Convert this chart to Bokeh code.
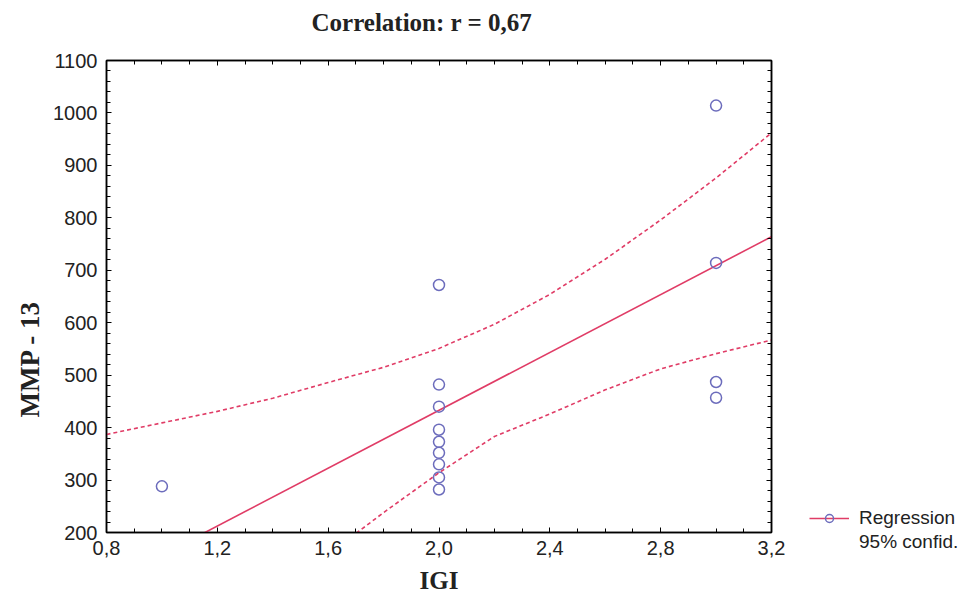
from bokeh.plotting import figure
from bokeh.layouts import row, column
from bokeh.models import (LinearAxis, Legend, LegendItem, CustomJSTickFormatter,
                          SingleIntervalTicker, ColumnDataSource, Title)
from bokeh.embed import file_html
from bokeh.resources import INLINE

# ---- data ----
igi = [1, 2, 2, 2, 2, 2, 2, 2, 2, 2, 3, 3, 3, 3]
mmp13 = [288, 672, 482, 440, 396, 373, 352, 330, 305, 282, 1014, 714, 487, 457]

reg_igi = [0.8, 3.2]
reg_mmp = [102, 764]

ci_upper_igi = [0.8, 1.0, 1.2, 1.4, 1.6, 1.8, 2.0, 2.2, 2.4, 2.6, 2.8, 3.0, 3.2]
ci_upper_mmp = [387, 409, 431, 456, 486, 515, 551, 597, 654, 721, 796, 876, 962]
ci_lower_igi = [1.6, 1.8, 2.0, 2.2, 2.4, 2.6, 2.8, 3.0, 3.2]
ci_lower_mmp = [158, 238, 314, 383, 426, 472, 512, 541, 567]

title_text = "Correlation: r = 0,67"
x_label = "IGI"
y_label = "MMP - 13"
legend_labels = ["Regression", "95% confid."]

RED = "#e03c66"
BLUE = "#6c6cbc"
SANS = "Liberation Sans"
SERIF = "Liberation Serif"
H = 596

p = figure(width=785, height=H, x_range=(0.8, 3.2), y_range=(200, 1100),
           output_backend="svg", toolbar_location=None,
           min_border_left=106, min_border_top=60, min_border_right=14,
           min_border_bottom=63, x_axis_location=None, y_axis_location=None)
p.grid.visible = False
p.outline_line_color = "black"
p.outline_line_width = 1.5
p.background_fill_color = "white"
p.border_fill_color = "white"

p.title.text = title_text
p.title.text_font = SERIF
p.title.text_font_size = "25px"
p.title.text_font_style = "bold"
p.title.text_color = "#222222"
p.title.align = "left"
p.title.offset = 205
p.title.standoff = 4

fmt = CustomJSTickFormatter(code="return tick.toFixed(1).replace('.', ',');")
blank = CustomJSTickFormatter(code="return '';")

def style_axis(ax):
    ax.axis_line_color = "black"
    ax.axis_line_width = 1.5
    ax.major_tick_in = 5
    ax.major_tick_out = 0
    ax.minor_tick_in = 4
    ax.minor_tick_out = 0
    ax.major_tick_line_color = "black"
    ax.minor_tick_line_color = "black"
    ax.major_label_text_font = SANS
    ax.major_label_text_font_size = "20px"
    ax.major_label_text_color = "#222222"
    ax.major_label_standoff = 0
    ax.axis_label_text_font = SERIF
    ax.axis_label_text_font_style = "bold"
    ax.axis_label_text_font_size = "25px"
    ax.axis_label_text_color = "#222222"

xb = LinearAxis(ticker=SingleIntervalTicker(interval=0.4, num_minor_ticks=4),
                formatter=fmt, axis_label=x_label)
style_axis(xb)
xb.major_label_standoff = 8
xb.axis_label_standoff = 9
p.add_layout(xb, "below")

xa = LinearAxis(ticker=SingleIntervalTicker(interval=0.4, num_minor_ticks=4),
                formatter=blank)
style_axis(xa)
p.add_layout(xa, "above")

# invisible spacer axis that lifts the title away from the frame
spacer = LinearAxis(ticker=SingleIntervalTicker(interval=0.4, num_minor_ticks=0),
                    formatter=blank)
spacer.axis_line_color = None
spacer.major_tick_line_color = None
spacer.minor_tick_line_color = None
spacer.major_tick_in = 0
spacer.major_tick_out = 23
spacer.minor_tick_in = 0
spacer.minor_tick_out = 0
spacer.major_label_standoff = 0
p.add_layout(spacer, "above")

yl = LinearAxis(ticker=SingleIntervalTicker(interval=100, num_minor_ticks=5))
style_axis(yl)
yl.major_label_standoff = 9
p.add_layout(yl, "left")

yr = LinearAxis(ticker=SingleIntervalTicker(interval=100, num_minor_ticks=5),
                formatter=blank)
style_axis(yr)
p.add_layout(yr, "right")

ytitle = Title(text=y_label, align="left", offset=115, standoff=12,
               text_font=SERIF, text_font_style="bold", text_font_size="27px",
               text_color="#222222")
p.add_layout(ytitle, "left")

src = ColumnDataSource(dict(x=igi, y=mmp13))
p.line(ci_upper_igi, ci_upper_mmp, line_color=RED, line_width=1.6, line_dash="4 3")
p.line(ci_lower_igi, ci_lower_mmp, line_color=RED, line_width=1.6, line_dash="4 3")
p.line(reg_igi, reg_mmp, line_color=RED, line_width=1.6)
p.scatter("x", "y", source=src, marker="circle", size=11, fill_color=None,
          line_color=BLUE, line_width=1.5)

# ---- legend panel to the right of the plot ----
lg = figure(width=180, height=H, x_range=(0, 1), y_range=(0, 1),
            output_backend="svg", toolbar_location=None,
            min_border=0, x_axis_location=None, y_axis_location=None)
lg.grid.visible = False
lg.outline_line_color = None
lg_reg = lg.line(x=[5, 6], y=[5, 6], line_color=RED, line_width=1.6)
lg_pts = lg.scatter(x=[5], y=[5], marker="circle", size=11, fill_color=None,
                    line_color=BLUE, line_width=1.5)
lg_ci = lg.line(x=[5, 6], y=[5, 6], line_alpha=0)

legend = Legend(items=[LegendItem(label=legend_labels[0], renderers=[lg_reg, lg_pts]),
                       LegendItem(label=legend_labels[1], renderers=[lg_ci])],
                location=(24, 43))
legend.border_line_color = None
legend.background_fill_alpha = 0
legend.label_text_font = SANS
legend.label_text_font_size = "19px"
legend.label_text_color = "#222222"
legend.glyph_width = 40
legend.glyph_height = 20
legend.label_height = 20
legend.spacing = 2
legend.padding = 0
legend.margin = 0
legend.label_standoff = 10
lg.add_layout(legend, "center")

layout = row(p, column(lg))
open("out.html", "w").write(file_html(layout, INLINE))
